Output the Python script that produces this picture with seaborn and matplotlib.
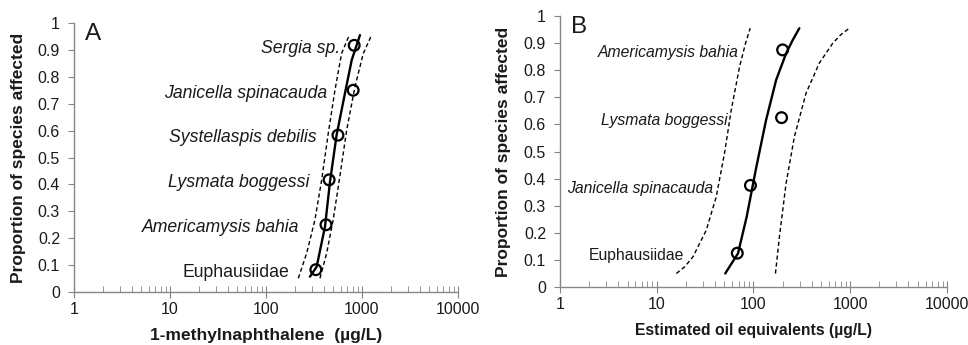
import numpy as np
import pandas as pd
import matplotlib
matplotlib.use('Agg')
import matplotlib.pyplot as plt
import matplotlib.ticker as mticker
import seaborn as sns

# ---- Panel A data (1-methylnaphthalene, ug/L) ----
a_species = ['Euphausiidae', 'Americamysis bahia', 'Lysmata boggessi',
             'Systellaspis debilis', 'Janicella spinacauda', 'Sergia sp.']
a_conc = [331, 422, 455, 562, 810, 830]
a_prop = [0.083, 0.25, 0.417, 0.583, 0.75, 0.917]

# fitted curve and confidence bounds (log10 conc, proportion)
a_fit_log = [2.458, 2.528, 2.615, 2.667, 2.736, 2.823, 2.893, 2.979]
a_fit_p = [0.057, 0.094, 0.243, 0.41, 0.584, 0.739, 0.862, 0.955]
a_lo_log = [2.337, 2.424, 2.51, 2.58, 2.649, 2.719, 2.788, 2.868]
a_lo_p = [0.051, 0.144, 0.268, 0.416, 0.59, 0.751, 0.887, 0.955]
a_hi_log = [2.5625, 2.632, 2.70, 2.77, 2.84, 2.927, 3.014, 3.10]
a_hi_p = [0.051, 0.144, 0.268, 0.43, 0.60, 0.763, 0.887, 0.955]

# ---- Panel B data (estimated oil equivalents, ug/L) ----
b_species = ['Euphausiidae', 'Janicella spinacauda', 'Lysmata boggessi',
             'Americamysis bahia']
b_conc = [68, 93, 195, 200]
b_prop = [0.125, 0.375, 0.625, 0.875]

b_fit_log = [1.708, 1.77, 1.84, 1.93, 2.03, 2.13, 2.234, 2.337, 2.405, 2.474]
b_fit_p = [0.05, 0.085, 0.124, 0.26, 0.444, 0.616, 0.764, 0.862, 0.911, 0.955]
b_lo_log = [1.203, 1.29, 1.375, 1.512, 1.615, 1.70, 1.77, 1.856, 1.918, 1.966]
b_lo_p = [0.05, 0.075, 0.112, 0.21, 0.333, 0.493, 0.653, 0.813, 0.90, 0.955]
b_hi_log = [2.227, 2.268, 2.337, 2.423, 2.543, 2.68, 2.818, 2.90, 2.99]
b_hi_p = [0.05, 0.186, 0.383, 0.555, 0.715, 0.826, 0.899, 0.93, 0.955]

# label offsets (points) from each circle, left of it
a_offsets = [-19, -19, -14, -15, -19, -10]
b_offsets = [-38, -27, -39, -32]

sns.set_style('white')
plt.rcParams['font.family'] = ['Liberation Sans', 'DejaVu Sans']

fig = plt.figure(figsize=(9.68, 3.45), dpi=100)
axA = fig.add_axes([0.0764, 0.1536, 0.3967, 0.7797])
axB = fig.add_axes([0.5785, 0.168, 0.3998, 0.7856])

axis_gray = '#868686'
txt = '#1a1a1a'


def fmt_y(v, _):
    if abs(v) < 1e-9:
        return '0'
    if abs(v - 1) < 1e-9:
        return '1'
    return f'{v:.1f}'


def draw_panel(ax, species, conc, prop, fit, lo, hi, offsets, xlabel, letter,
               label_size, xlabel_size):
    for (lg, p), ls, lw in [(fit, '-', 1.7), (lo, '--', 1.0), (hi, '--', 1.0)]:
        d = pd.DataFrame({'x': 10 ** np.array(lg), 'y': p})
        sns.lineplot(data=d, x='x', y='y', ax=ax, sort=False, estimator=None,
                     color='black', linewidth=lw, linestyle=ls)
        if ls == '--':
            ax.lines[-1].set_dashes((3, 2))
    pts = pd.DataFrame({'x': conc, 'y': prop})
    sns.scatterplot(data=pts, x='x', y='y', ax=ax, s=60, marker='o',
                    facecolor='none', edgecolor='black', linewidth=1.6, zorder=5)
    for name, x, y, off in zip(species, conc, prop, offsets):
        style = 'normal' if name == 'Euphausiidae' else 'italic'
        ax.annotate(name, (x, y), xytext=(off, -2), textcoords='offset points',
                    ha='right', va='center', fontsize=label_size, style=style,
                    color=txt)

    ax.set_xscale('log')
    ax.set_xlim(1, 10000)
    ax.set_ylim(0, 1)
    ax.set_yticks(np.arange(0, 1.01, 0.1))
    ax.yaxis.set_major_formatter(mticker.FuncFormatter(fmt_y))
    ax.xaxis.set_major_locator(mticker.FixedLocator([1, 10, 100, 1000, 10000]))
    ax.xaxis.set_major_formatter(mticker.FuncFormatter(lambda v, _: f'{int(v)}'))
    ax.xaxis.set_minor_locator(mticker.LogLocator(base=10, subs=np.arange(2, 10)))
    ax.xaxis.set_minor_formatter(mticker.NullFormatter())

    for s in ['top', 'right']:
        ax.spines[s].set_visible(False)
    for s in ['left', 'bottom']:
        ax.spines[s].set_color(axis_gray)
        ax.spines[s].set_linewidth(1.0)
    ax.tick_params(axis='y', which='major', direction='out', length=4,
                   color=axis_gray, labelsize=11.5, labelcolor=txt, left=True, pad=6)
    ax.tick_params(axis='x', which='major', direction='inout', length=8,
                   color=axis_gray, labelsize=11.5, labelcolor=txt, bottom=True, pad=3)
    ax.tick_params(axis='x', which='minor', direction='in', length=4,
                   color=axis_gray, bottom=True)

    ax.set_xlabel(xlabel, fontsize=xlabel_size, fontweight='bold', color=txt)
    ax.set_ylabel('Proportion of species affected', fontsize=12.5,
                  fontweight='bold', color=txt)
    ax.xaxis.set_label_coords(0.5, -0.16)
    ax.xaxis.label.set_va('center')
    ax.yaxis.set_label_coords(-0.145, 0.5)
    ax.yaxis.label.set_va('center')
    ax.text(0.028, 1.0, letter, transform=ax.transAxes, fontsize=17.5,
            ha='left', va='top', color=txt)


draw_panel(axA, a_species, a_conc, a_prop,
           (a_fit_log, a_fit_p), (a_lo_log, a_lo_p), (a_hi_log, a_hi_p),
           a_offsets, '1-methylnaphthalene  (µg/L)', 'A', 12.7, 12.5)
draw_panel(axB, b_species, b_conc, b_prop,
           (b_fit_log, b_fit_p), (b_lo_log, b_lo_p), (b_hi_log, b_hi_p),
           b_offsets, 'Estimated oil equivalents (µg/L)', 'B', 11.3, 11.3)

fig.savefig('out.png', dpi=100)
